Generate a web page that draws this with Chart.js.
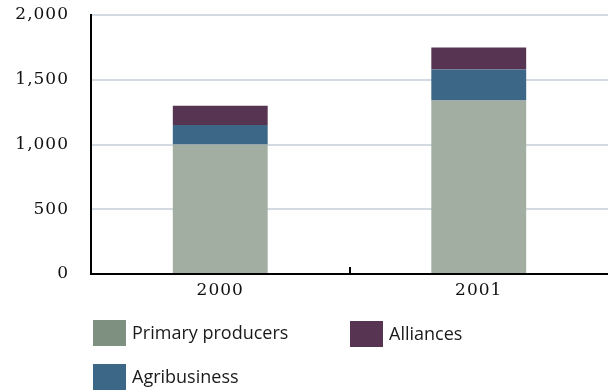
<!DOCTYPE html>
<html>
<head>
<meta charset="utf-8">
<script src="https://cdn.jsdelivr.net/npm/chart.js@4"></script>
<style>
  body { margin: 0; background: #fff; }
  #wrap { position: relative; width: 608px; height: 390px; overflow: hidden; }
  #box { position: absolute; left: 0; top: 0; width: 608px; height: 320px; }
  .key { position: absolute; font-family: "Open Sans", sans-serif; font-size: 18px; color: #1a1a1a; line-height: 26px; }
  .key span { position: absolute; left: 0; top: 0; width: 33px; height: 26px; }
  .key b { font-weight: normal; position: absolute; left: 39px; top: -1px; white-space: nowrap; }
</style>
</head>
<body>
<div id="wrap">
  <div id="box"><canvas id="chart"></canvas></div>
</div>
<script>
// years on the x axis
var years = ['2000', '2001'];

// stacked from bottom to top
var seriesNames = ['Primary producers', 'Agribusiness', 'Alliances'];
var primaryProducers = [1000, 1340];
var agribusiness = [150, 240];
var alliances = [150, 170];

var barColors = ['#a1aea1', '#3c6786', '#573452'];
var keyColors = ['#7e9181', '#3c6786', '#573452'];

var yTicks = [0, 500, 1000, 1500, 2000];

// the axis numbers are set a little wide
var spacing = {
    id: 'spacing',
    beforeDraw: function (chart) { chart.ctx.letterSpacing = '1px'; }
};

// small upward tick between the two year groups
var dividerTicks = {
    id: 'dividerTicks',
    afterDatasetsDraw: function (chart) {
        var x = chart.scales.x;
        var c = chart.ctx;
        c.save();
        c.strokeStyle = '#000';
        c.lineWidth = 2;
        for (var i = 0; i < years.length - 1; i++) {
            var px = Math.round((x.getPixelForValue(i) + x.getPixelForValue(i + 1)) / 2);
            c.beginPath();
            c.moveTo(px, x.top);
            c.lineTo(px, x.top - 7);
            c.stroke();
        }
        c.restore();
    }
};

var values = [primaryProducers, agribusiness, alliances];

new Chart(document.getElementById('chart'), {
    type: 'bar',
    data: {
        labels: years,
        datasets: seriesNames.map(function (name, i) {
            return {
                label: name,
                data: values[i],
                backgroundColor: barColors[i],
                borderWidth: 0,
                barPercentage: 0.367,
                categoryPercentage: 1
            };
        })
    },
    options: {
        responsive: true,
        maintainAspectRatio: false,
        animation: false,
        layout: { padding: { top: 15, right: 0, left: 0, bottom: 16 } },
        plugins: {
            legend: { display: false },
            tooltip: { enabled: false }
        },
        scales: {
            x: {
                stacked: true,
                grid: { display: false, drawTicks: false },
                border: { color: '#000', width: 2 },
                ticks: {
                    color: '#111',
                    padding: 6,
                    font: { family: 'DejaVu Serif', size: 17 }
                },
                afterFit: function (s) { s.height = 30; }
            },
            y: {
                stacked: true,
                min: 0,
                max: 2000,
                afterBuildTicks: function (s) {
                    s.ticks = yTicks.map(function (v) { return { value: v }; });
                },
                grid: { color: '#d4dae1', lineWidth: 2, drawTicks: false },
                border: { color: '#000', width: 2 },
                ticks: {
                    color: '#111',
                    padding: 22,
                    font: { family: 'DejaVu Serif', size: 17 },
                    callback: function (v) { return v.toLocaleString('en-US'); }
                },
                afterFit: function (s) {
                    s.width = 91;
                    s.paddingTop = 0;
                    s.paddingBottom = 0;
                }
            }
        }
    },
    plugins: [spacing, dividerTicks]
});

// legend: first column Primary producers / Agribusiness, second column Alliances
var keyPos = [[93, 320], [93, 364], [350, 321]];
var wrap = document.getElementById('wrap');
seriesNames.forEach(function (name, i) {
    var d = document.createElement('div');
    d.className = 'key';
    d.style.left = keyPos[i][0] + 'px';
    d.style.top = keyPos[i][1] + 'px';
    var sw = document.createElement('span');
    sw.style.background = keyColors[i];
    var t = document.createElement('b');
    t.textContent = name;
    d.appendChild(sw);
    d.appendChild(t);
    wrap.appendChild(d);
});
</script>
</body>
</html>
